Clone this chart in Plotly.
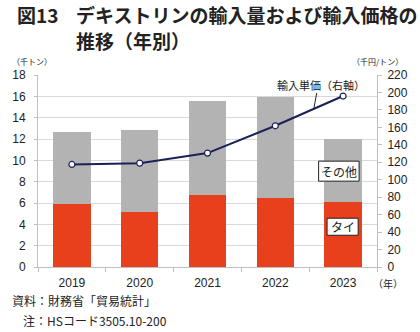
import plotly.graph_objects as go

years = ["2019", "2020", "2021", "2022", "2023"]
thai = [5.89, 5.14, 6.73, 6.48, 6.05]
other_total = [12.62, 12.85, 15.56, 15.96, 12.0]
other = [round(t - a, 2) for t, a in zip(other_total, thai)]
unit_price = [117.5, 119.0, 130.5, 161.8, 195.9]

W, H = 420, 332
L, R, T, B = 30, 30, 75, 65.3
PW, PH = W - L - R, H - T - B

def px(x):
    return (x - L) / PW

def py(y):
    return (H - B - y) / PH

JP = "Noto Sans CJK JP"
NUM = "Liberation Sans, Arial"

fig = go.Figure()
fig.add_trace(go.Bar(x=years, y=thai, name="タイ", marker=dict(color="#E8401C", line=dict(width=0))))
fig.add_trace(go.Bar(x=years, y=other, name="その他", marker=dict(color="#B3B3B3", line=dict(width=0))))
fig.add_trace(go.Scatter(x=years, y=unit_price, yaxis="y2", mode="lines+markers",
                         line=dict(color="#1B2157", width=2),
                         marker=dict(symbol="circle", size=6, color="white",
                                     line=dict(color="#1B2157", width=1.2))))

fig.update_layout(
    width=W, height=H, barmode="stack", bargap=0.45, showlegend=False,
    margin=dict(l=L, r=R, t=T, b=B, pad=0),
    plot_bgcolor="white", paper_bgcolor="white",
    font=dict(family=NUM, size=12, color="#222"),
    xaxis=dict(type="category", showline=True, linecolor="#BFBFBF", linewidth=1,
               ticks="outside", tickson="boundaries", ticklen=4, tickcolor="#BFBFBF",
               ticklabelstandoff=5,
               tickfont=dict(family=NUM, size=12, color="#222"), showgrid=False),
    yaxis=dict(range=[0, 18], dtick=2, showgrid=True, gridcolor="#D9D9D9", gridwidth=1,
               showline=True, linecolor="#BFBFBF", ticks="outside", ticklen=3,
               tickcolor="#BFBFBF", ticklabelstandoff=6,
               tickfont=dict(family=NUM, size=12, color="#222"),
               zeroline=False),
    yaxis2=dict(range=[0, 220], dtick=20, overlaying="y", side="right", showgrid=False,
                showline=True, linecolor="#BFBFBF", ticks="outside", ticklen=4,
                tickcolor="#BFBFBF", ticklabelstandoff=3,
                tickfont=dict(family=NUM, size=12, color="#222"),
                zeroline=False),
)

ann = []
def text(x, y, s, size=12, xanchor="left", bold=False, family=JP, color="#222"):
    ann.append(dict(x=px(x), y=py(y), xref="paper", yref="paper", text=(f"<b>{s}</b>" if bold else s),
                    showarrow=False, xanchor=xanchor, yanchor="middle",
                    font=dict(family=family, size=size, color=color)))

text(6, 15, "図13", size=19, bold=True)
text(68, 15, "デキストリンの輸入量および輸入価格の", size=19, bold=True)
text(68, 41, "推移（年別）", size=19, bold=True)
text(0, 62, "（千トン）", size=8)
text(420, 62, "（千円/トン）", size=8, xanchor="right")
text(420, 283, "（年）", size=10, xanchor="right")
text(0, 300, "資料：財務省「貿易統計」", size=12)
text(12, 320, "注：HSコード3505.10-200", size=12)
text(331, 85, "輸入単価（右軸）", size=11, xanchor="center")

shapes = []
for s, x0, y0, x1, y1 in [("その他", 328, 161, 371, 181), ("タイ", 337, 218, 370, 235)]:
    shapes.append(dict(type="rect", xref="paper", yref="paper", x0=px(x0), x1=px(x1),
                       y0=py(y1), y1=py(y0), fillcolor="white", line=dict(color="#222", width=1),
                       layer="above"))
    text((x0 + x1) / 2, (y0 + y1) / 2, s, size=12, xanchor="center")

shapes.append(dict(type="line", xref="paper", yref="paper", x0=px(326), y0=py(93), x1=px(323), y1=py(108),
                   line=dict(color="#222", width=1)))

fig.update_layout(annotations=ann, shapes=shapes)
fig.write_html("out.html")
